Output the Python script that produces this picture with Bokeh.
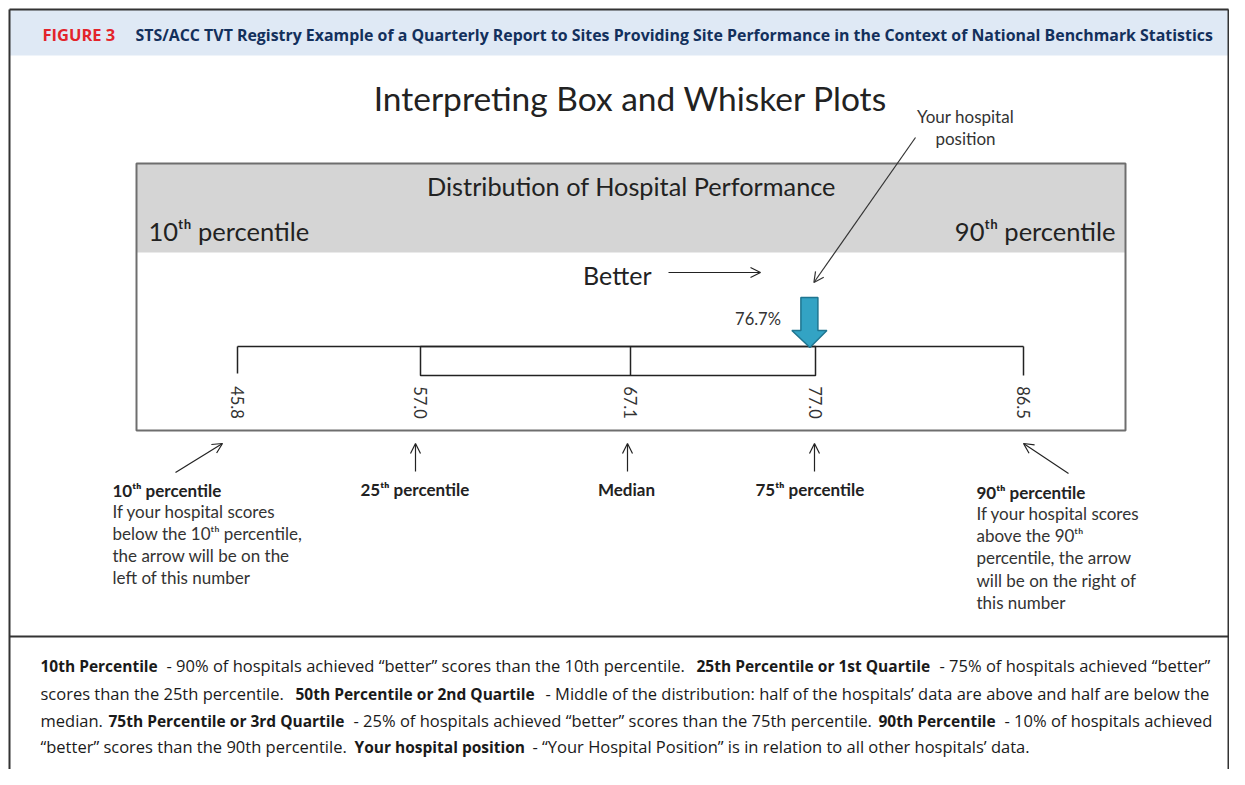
import numpy as np
from bokeh.plotting import figure
from bokeh.models import Range1d, Arrow, OpenHead
from bokeh.core.properties import value
from bokeh.embed import file_html
from bokeh.resources import INLINE

# ---------------- data ----------------
stat_names = ["10ᵗʰ percentile", "25ᵗʰ percentile", "Median", "75ᵗʰ percentile", "90ᵗʰ percentile"]
stat_values = [45.8, 57.0, 67.1, 77.0, 86.5]
stat_labels = ["45.8", "57.0", "67.1", "77.0", "86.5"]
hospital_value = 76.7
hospital_label = "76.7%"

header_tag = "FIGURE 3"
header_title = ("STS/ACC TVT Registry Example of a Quarterly Report to Sites Providing Site "
                "Performance in the Context of National Benchmark Statistics")
chart_title = "Interpreting Box and Whisker Plots"
band_title = "Distribution of Hospital Performance"
left_note = ["If your hospital scores", "below the 10ᵗʰ percentile,", "the arrow will be on the", "left of this number"]
right_note = ["If your hospital scores", "above the 90ᵗʰ", "percentile, the arrow", "will be on the right of", "this number"]

# caption segments: (line, text, bold, x start)
caption = [
    (0, "10th Percentile", True, 40),
    (0, "- 90% of hospitals achieved “better” scores than the 10th percentile.", False, 166),
    (0, "25th Percentile or 1st Quartile", True, 696),
    (0, "- 75% of hospitals achieved “better”", False, 939),
    (1, "scores than the 25th percentile.", False, 40),
    (1, "50th Percentile or 2nd Quartile", True, 295),
    (1, "- Middle of the distribution: half of the hospitals’ data are above and half are below the", False, 545),
    (2, "median.", False, 40),
    (2, "75th Percentile or 3rd Quartile", True, 108),
    (2, "- 25% of hospitals achieved “better” scores than the 75th percentile.", False, 353),
    (2, "90th Percentile", True, 878),
    (2, "- 10% of hospitals achieved", False, 1004),
    (3, "“better” scores than the 90th percentile.", False, 40),
    (3, "Your hospital position", True, 354),
    (3, "- “Your Hospital Position” is in relation to all other hospitals’ data.", False, 532),
]

# ---------------- layout ----------------
W, H = 1229, 769
slot_x = [237, 420, 630, 815, 1023]       # horizontal slots of the five statistics

def xpos(v):
    return float(np.interp(v, stat_values, slot_x))

p = figure(width=W, height=H, x_range=Range1d(0, W), y_range=Range1d(H, 0),
           output_backend="svg", toolbar_location=None, min_border=0,
           x_axis_type=None, y_axis_type=None)
p.grid.visible = False
p.outline_line_color = None
p.background_fill_color = "white"
p.border_fill_color = "white"

ILL = value("Lato")
CAP = value("Open Sans")
DARK = "#222222"

# header band
p.quad(left=[9], right=[1228], top=[9], bottom=[55], fill_color="#dfe9f5", line_color=None)
p.text(x=[42], y=[34], text=[header_tag], text_font=CAP, text_font_style="bold",
       text_font_size="16.5px", text_color="#e3242b", text_baseline="middle")
p.text(x=[135], y=[34], text=[header_title], text_font=CAP, text_font_style="bold",
       text_font_size="15.9px", text_color="#13305c", text_baseline="middle")

# outer frame and caption separator
p.segment(x0=[9, 1228, 9], y0=[9, 9, 9], x1=[9, 1228, 1228], y1=[769, 769, 9],
          line_color="#333333", line_width=2)
p.segment(x0=[9], y0=[636], x1=[1228], y1=[636], line_color="#333333", line_width=2)

# chart title
p.text(x=[630], y=[97], text=[chart_title], text_font=ILL, text_font_size="33.5px",
       text_color=DARK, text_align="center", text_baseline="middle")

# grey panel
p.quad(left=[136], right=[1125], top=[163], bottom=[252], fill_color="#d5d5d5", line_color=None)
p.rect(x=[630.5], y=[296.5], width=[989], height=[267], fill_color=None,
       line_color="#6e6e6e", line_width=2)
p.text(x=[631], y=[185], text=[band_title], text_font=ILL, text_font_size="25.3px",
       text_color=DARK, text_align="center", text_baseline="middle")
p.text(x=[148], y=[230], text=["10ᵗʰ percentile"], text_font=ILL, text_font_size="25.5px",
       text_color=DARK, text_baseline="middle")
p.text(x=[1115], y=[230], text=["90ᵗʰ percentile"], text_font=ILL, text_font_size="25.5px",
       text_color=DARK, text_align="right", text_baseline="middle")

# "Better" arrow
p.text(x=[651], y=[274], text=["Better"], text_font=ILL, text_font_size="25px",
       text_color=DARK, text_align="right", text_baseline="middle")
p.add_layout(Arrow(end=OpenHead(size=10, line_width=1.2, line_color=DARK),
                   x_start=668, y_start=272, x_end=760, y_end=272,
                   line_color=DARK, line_width=1.2))

# box and whiskers
xs = [xpos(v) for v in stat_values]
top_y, bot_y = 346, 375
p.segment(x0=[xs[0]], y0=[top_y], x1=[xs[4]], y1=[top_y], line_color=DARK, line_width=1.5)
p.segment(x0=[xs[0], xs[4]], y0=[top_y, top_y], x1=[xs[0], xs[4]], y1=[373, 375],
          line_color=DARK, line_width=1.5)
p.quad(left=[xs[1]], right=[xs[3]], top=[top_y], bottom=[bot_y], fill_color=None,
       line_color=DARK, line_width=1.5)
p.segment(x0=[xs[2]], y0=[top_y], x1=[xs[2]], y1=[bot_y], line_color=DARK, line_width=1.5)
p.text(x=xs, y=[402] * 5, text=stat_labels, angle=-np.pi / 2, text_font=ILL,
       text_font_size="16.5px", text_color="#333333", text_align="center", text_baseline="middle")

# hospital position arrow
hx = xpos(hospital_value)
arrow_dx = np.array([-9, 8, 8, 17, 0, -18, -9])
arrow_dy = np.array([297, 297, 330, 330, 347, 330, 330])
p.patch(x=hx + arrow_dx, y=arrow_dy, fill_color="#33a3c4", line_color="#1f7590", line_width=1.5)
p.text(x=[hx - 29], y=[318], text=[hospital_label], text_font=ILL, text_font_size="16.5px",
       text_color="#333333", text_align="right", text_baseline="middle")
p.text(x=[965, 965], y=[116, 138], text=["Your hospital", "position"], text_font=ILL,
       text_font_size="17px", text_color="#333333", text_align="center", text_baseline="middle")
p.add_layout(Arrow(end=OpenHead(size=10, line_width=1.2, line_color="#333333"),
                   x_start=915, y_start=137, x_end=hx + 4, y_end=282,
                   line_color="#333333", line_width=1.2))

# pointer arrows under the panel
starts = [(xs[0] - 62, 472), (xs[1] - 5, 471), (xs[2] - 3, 471), (xs[3] - 1, 471), (xs[4] + 45, 473)]
ends = [(xs[0] - 15, 443), (xs[1] - 5, 443), (xs[2] - 3, 443), (xs[3] - 1, 443), (xs[4], 443)]
for (x0, y0), (x1, y1) in zip(starts, ends):
    p.add_layout(Arrow(end=OpenHead(size=10, line_width=1.2, line_color=DARK),
                       x_start=x0, y_start=y0, x_end=x1, y_end=y1,
                       line_color=DARK, line_width=1.2))

label_x = [112, 360, 626, 755, 976]
label_y = [490, 489, 489, 489, 492]
label_align = ["left", "left", "center", "left", "left"]
for lx, ly, la, name in zip(label_x, label_y, label_align, stat_names):
    p.text(x=[lx], y=[ly], text=[name], text_font=ILL, text_font_style="bold",
           text_font_size="17px", text_color=DARK, text_align=la, text_baseline="middle")

p.text(x=[112] * len(left_note), y=[511 + 22 * i for i in range(len(left_note))], text=left_note,
       text_font=ILL, text_font_size="17px", text_color="#333333", text_baseline="middle")
p.text(x=[976] * len(right_note), y=[513 + 22.2 * i for i in range(len(right_note))], text=right_note,
       text_font=ILL, text_font_size="17px", text_color="#333333", text_baseline="middle")

# caption
line_y = [665, 693, 720, 746]
for ln, txt, bold, x0 in caption:
    p.text(x=[x0], y=[line_y[ln]], text=[txt], text_font=CAP,
           text_font_style="bold" if bold else "normal",
           text_font_size="15.5px" if bold else "16.5px",
           text_color="#1a1a1a", text_baseline="middle")

open("out.html", "w").write(file_html(p, INLINE))
